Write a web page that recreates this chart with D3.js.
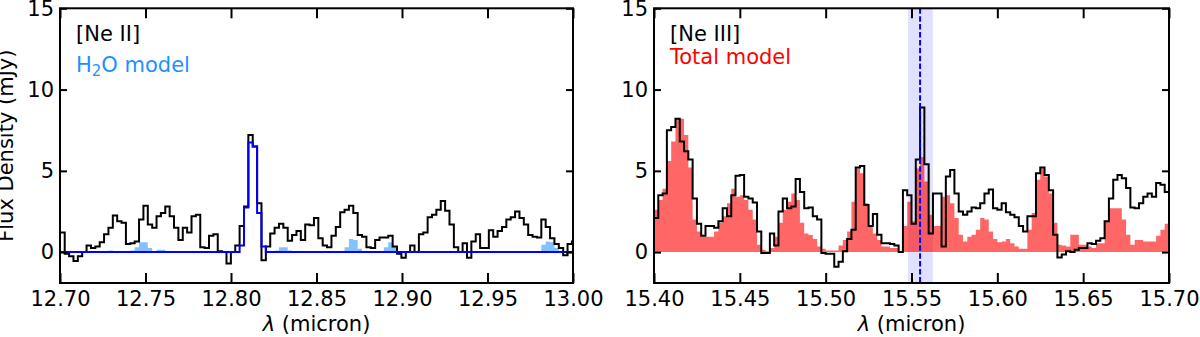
<!DOCTYPE html>
<html>
<head>
<meta charset="utf-8">
<title>Ne II / Ne III spectra</title>
<script src="https://d3js.org/d3.v7.min.js"></script>
<style>
html, body { margin: 0; padding: 0; background: #fff; }
svg { display: block; font-family: "DejaVu Sans", sans-serif; }
</style>
</head>
<body>
<svg id="chart" width="1200" height="337"></svg>
<script>
// wavelength grids (bin edges start + step), micron
var neiiStart = 12.7002, neiiStep = 0.002557;
var neiiiStart = 15.40, neiiiStep = 0.0025;

// [Ne II] panel: observed flux (mJy)
var neiiFlux = [1.2, -0.1, -0.25, -0.55, -0.25, 0.0, 0.4, 0.25, 0.35, 0.6,
	1.1, 1.5, 2.25, 1.9, 1.8, 0.5, 0.55, 0.65, 2.0, 2.85,
	1.7, 1.5, 2.2, 2.4, 2.8, 2.2, 1.5, 0.75, 1.5, 1.2,
	2.2, 2.3, 0.3, 0.25, 1.0, 1.1, 0.05, 0.0, -0.7, 0.0,
	0.4, 1.6, 2.8, 7.2, 6.5, 3.0, -0.5, 0.35, 1.15, 1.5,
	1.75, 1.5, 0.7, 1.05, 1.3, 0.75, 1.7, 1.65, 2.1, 0.85,
	0.4, 0.3, 1.0, 1.55, 2.45, 2.6, 2.85, 2.4, 1.05, 0.95,
	0.3, 0.25, 0.75, 0.9, 0.9, 1.0, 0.35, -0.1, -0.35, 0.0,
	0.4, 0.0, 1.1, 1.2, 2.15, 2.3, 2.6, 3.15, 2.55, 1.7,
	0.3, 0.0, 0.55, -0.35, 0.65, 1.1, 0.25, 0.25, 1.35, 0.95,
	1.3, 1.55, 2.0, 2.15, 2.5, 2.1, 1.7, 1.05, 0.95, 0.9,
	2.0, 1.55, 0.85, 0.5, 0.25, -0.2, 0.5, 0.65];

// [Ne II] line fit (blue line)
var neiiFit = [0, 0, 0, 0, 0, 0, 0, 0, 0, 0,
	0, 0, 0, 0, 0, 0, 0, 0, 0, 0,
	0, 0, 0, 0, 0, 0, 0, 0, 0, 0,
	0, 0, 0, 0, 0, 0, 0, 0, 0, 0,
	0, 0.4, 2.75, 6.75, 6.5, 2.4, 0.35, 0, 0, 0,
	0, 0, 0, 0, 0, 0, 0, 0, 0, 0,
	0, 0, 0, 0, 0, 0, 0, 0, 0, 0,
	0, 0, 0, 0, 0, 0, 0, 0, 0, 0,
	0, 0, 0, 0, 0, 0, 0, 0, 0, 0,
	0, 0, 0, 0, 0, 0, 0, 0, 0, 0,
	0, 0, 0, 0, 0, 0, 0, 0, 0, 0,
	0, 0, 0, 0, 0, 0, 0, 0];

// H2O model under [Ne II]
var h2oModel = [0, 0, 0, 0, 0, 0, 0, 0, 0, 0,
	0, 0.1, 0, 0, 0, 0, 0.1, 0.3, 0.6, 0.6,
	0.25, 0, 0.15, 0.15, 0, 0, 0, 0, 0, 0,
	0, 0, 0, 0, 0, 0, 0, 0, 0, 0,
	0, 0, 0, 0, 0, 0, 0, 0, 0, 0.1,
	0.3, 0.3, 0.1, 0, 0, 0, 0, 0, 0, 0,
	0, 0, 0, 0, 0, 0.3, 0.8, 0.75, 0.2, 0,
	0, 0, 0, 0, 0.3, 0.6, 0.35, 0.05, 0, 0,
	0, 0, 0, 0, 0, 0, 0, 0, 0, 0,
	0, 0, 0, 0, 0, 0, 0, 0, 0, 0,
	0, 0, 0, 0, 0, 0, 0, 0, 0, 0,
	0.45, 0.65, 0.6, 0.25, 0, 0, 0, 0];

// [Ne III] panel: observed flux (mJy)
var neiiiFlux = [2.1, 3.5, 3.6, 7.5, 7.7, 8.2, 6.8, 6.2, 5.7, 3.3,
	1.75, 1.0, 1.6, 1.6, 1.5, 1.9, 2.7, 2.2, 3.5, 4.7,
	4.75, 3.4, 3.3, 3.05, 1.27, -0.05, -0.05, 1.15, 0.4, 2.5,
	3.3, 2.7, 2.8, 4.5, 3.7, 2.7, 2.75, 2.2, 2.0, -0.05,
	-0.1, -0.1, -0.9, -0.6, 0.05, 0.8, 1.37, 5.2, 5.3, 2.9,
	1.6, 2.35, 1.07, 0.55, 0.55, 0.5, 0.4, 0.0, 3.8, 3.5,
	1.75, 5.7, 8.9, 5.4, 1.15, 3.6, 3.6, 0.35, 4.65, 5.05,
	3.6, 2.5, 2.3, 2.5, 2.75, 2.7, 3.0, 3.6, 3.85, 2.7,
	2.6, 3.0, 2.45, 2.3, 2.15, 1.6, 1.27, 2.2, 2.2, 4.85,
	5.2, 4.75, 3.8, 1.07, -0.33, -0.15, 0.05, 0.0, 0.15, 0.25,
	0.25, 0.55, 0.5, 0.7, 0.85, 1.9, 3.3, 4.45, 4.75, 4.55,
	3.95, 2.75, 2.7, 3.0, 3.4, 3.6, 3.4, 4.25, 4.15, 3.7];

// total model under [Ne III] (red fill)
var totalModel = [2.6, 3.2, 3.9, 5.6, 6.8, 8.2, 8.2, 7.2, 5.2, 2.0,
	1.27, 0.95, 0.95, 0.95, 1.27, 1.8, 2.2, 3.0, 3.9, 3.4,
	3.5, 3.2, 2.6, 2.0, 0.45, 0.15, 0.05, 0.25, 0.95, 1.8,
	2.6, 3.1, 3.6, 3.2, 1.8, 1.15, 1.05, 0.8, 0.35, 0.2,
	0.1, 0.1, 0.1, 0.4, 0.75, 1.27, 3.1, 5.15, 4.85, 3.0,
	1.6, 1.15, 0.75, 0.35, 0.35, 0.25, 0.25, 0.05, 1.6, 3.1,
	1.9, 5.15, 5.85, 4.35, 2.3, 1.6, 1.6, 3.4, 3.5, 3.0,
	2.1, 1.07, 0.65, 0.95, 1.07, 1.37, 2.1, 2.0, 1.27, 0.8,
	0.6, 0.65, 0.8, 0.55, 0.35, 0.2, 0.2, 1.37, 2.4, 4.45,
	5.15, 4.65, 3.6, 1.8, 0.45, 0.4, 0.35, 1.07, 1.07, 0.45,
	0.45, 0.35, 0.25, 0.55, 0.55, 1.9, 2.7, 2.7, 2.7, 2.0,
	1.07, 0.45, 0.75, 0.75, 0.65, 0.65, 0.65, 1.0, 1.37, 1.75];

// [Ne III] line position and window
var neiiiLine = 15.555;
var neiiiWindow = [15.548, 15.5624];

var xTicksLeft = [12.70, 12.75, 12.80, 12.85, 12.90, 12.95, 13.00];
var xTicksRight = [15.40, 15.45, 15.50, 15.55, 15.60, 15.65, 15.70];
var yTicks = [0, 5, 10, 15];

var svg = d3.select("#chart");
var plotTop = 8.3, plotBottom = 283;
var y = d3.scaleLinear().domain([-1.9, 15]).range([plotBottom, plotTop]);
var fmt = d3.format(".2f");

// turn a bin list into step points: [edge, value], last value repeated at the final edge
function steps(start, step, vals) {
	var pts = vals.map((v, i) => [start + i * step, v]);
	pts.push([start + vals.length * step, vals[vals.length - 1]]);
	return pts;
}

function panel(id, x0, x1, domain, ticks) {
	var x = d3.scaleLinear().domain(domain).range([x0, x1]);
	var g = svg.append("g");
	g.append("clipPath").attr("id", "clip" + id)
	  .append("rect").attr("x", x0).attr("y", plotTop).attr("width", x1 - x0).attr("height", plotBottom - plotTop);
	var data = g.append("g").attr("clip-path", "url(#clip" + id + ")");

	var axB = d3.axisBottom(x).tickValues(ticks).tickFormat(fmt).tickSizeInner(-10).tickSizeOuter(0).tickPadding(8);
	var axT = d3.axisTop(x).tickValues(ticks).tickFormat("").tickSizeInner(-10).tickSizeOuter(0);
	var axL = d3.axisLeft(y).tickValues(yTicks).tickSizeInner(-7).tickSizeOuter(0).tickPadding(6);
	var axR = d3.axisRight(y).tickValues(yTicks).tickFormat("").tickSizeInner(-7).tickSizeOuter(0);

	[[axB, `translate(0,${plotBottom})`], [axT, `translate(0,${plotTop})`],
	 [axL, `translate(${x0},0)`], [axR, `translate(${x1},0)`]].forEach(function (a) {
		var ga = g.append("g").attr("transform", a[1]).call(a[0]);
		ga.select(".domain").remove();
		ga.selectAll("line").attr("stroke", "#000").attr("stroke-width", 2);
		ga.selectAll("text").attr("font-size", 21).attr("fill", "#000")
		  .attr("font-family", "DejaVu Sans, sans-serif");
	});

	g.append("rect").attr("x", x0).attr("y", plotTop).attr("width", x1 - x0).attr("height", plotBottom - plotTop)
	  .attr("fill", "none").attr("stroke", "#000").attr("stroke-width", 2);

	g.append("text").attr("x", (x0 + x1) / 2).attr("y", 331).attr("text-anchor", "middle")
	  .attr("font-size", 21)
	  .call(t => { t.append("tspan").attr("font-style", "italic").text("λ"); t.append("tspan").text(" (micron)"); });

	return { x: x, g: g, data: data };
}

var L = panel("L", 60, 573, [12.70, 13.00], xTicksLeft);
var R = panel("R", 654, 1169, [15.40, 15.70], xTicksRight);

// ----- left panel -----
var lineL = d3.line().x(d => L.x(d[0])).y(d => y(d[1])).curve(d3.curveStepAfter);
var areaL = d3.area().x(d => L.x(d[0])).y0(y(0)).y1(d => y(d[1])).curve(d3.curveStepAfter);

L.data.append("path").attr("d", areaL(steps(neiiStart, neiiStep, h2oModel)))
  .attr("fill", "#1e90ff").attr("fill-opacity", 0.55);
L.data.append("path").attr("d", lineL(steps(neiiStart, neiiStep, neiiFlux)))
  .attr("fill", "none").attr("stroke", "#000").attr("stroke-width", 2);
L.data.append("path").attr("d", lineL(steps(neiiStart, neiiStep, neiiFit)))
  .attr("fill", "none").attr("stroke", "#0000ff").attr("stroke-width", 2);

L.g.append("text").attr("x", 76).attr("y", 41).attr("font-size", 21).text("[Ne II]");
L.g.append("text").attr("x", 76).attr("y", 72).attr("font-size", 21).attr("fill", "#1e90ff")
  .call(t => {
	t.append("tspan").text("H");
	t.append("tspan").attr("font-size", 15).attr("dy", 4).text("2");
	t.append("tspan").attr("dy", -4).text("O model");
  });

// ----- right panel -----
var lineR = d3.line().x(d => R.x(d[0])).y(d => y(d[1])).curve(d3.curveStepAfter);
var areaR = d3.area().x(d => R.x(d[0])).y0(y(0)).y1(d => y(d[1])).curve(d3.curveStepAfter);

R.data.append("rect").attr("x", R.x(neiiiWindow[0])).attr("y", plotTop)
  .attr("width", R.x(neiiiWindow[1]) - R.x(neiiiWindow[0])).attr("height", plotBottom - plotTop)
  .attr("fill", "#0000ff").attr("fill-opacity", 0.12);
R.data.append("path").attr("d", areaR(steps(neiiiStart, neiiiStep, totalModel)))
  .attr("fill", "#ff0000").attr("fill-opacity", 0.6);
R.data.append("path").attr("d", lineR(steps(neiiiStart, neiiiStep, neiiiFlux)))
  .attr("fill", "none").attr("stroke", "#000").attr("stroke-width", 2);
R.data.append("line").attr("x1", R.x(neiiiLine)).attr("x2", R.x(neiiiLine))
  .attr("y1", plotTop).attr("y2", plotBottom)
  .attr("stroke", "#0000ff").attr("stroke-width", 2).attr("stroke-dasharray", "5.5,2.4");

R.g.append("text").attr("x", 670).attr("y", 41).attr("font-size", 21).text("[Ne III]");
R.g.append("text").attr("x", 670).attr("y", 64).attr("font-size", 21).attr("fill", "#ff0000").text("Total model");

// y label
svg.append("text").attr("transform", `translate(13,${(plotTop + plotBottom) / 2}) rotate(-90)`)
  .attr("text-anchor", "middle").attr("font-size", 21).text("Flux Density (mJy)");
</script>
</body>
</html>
